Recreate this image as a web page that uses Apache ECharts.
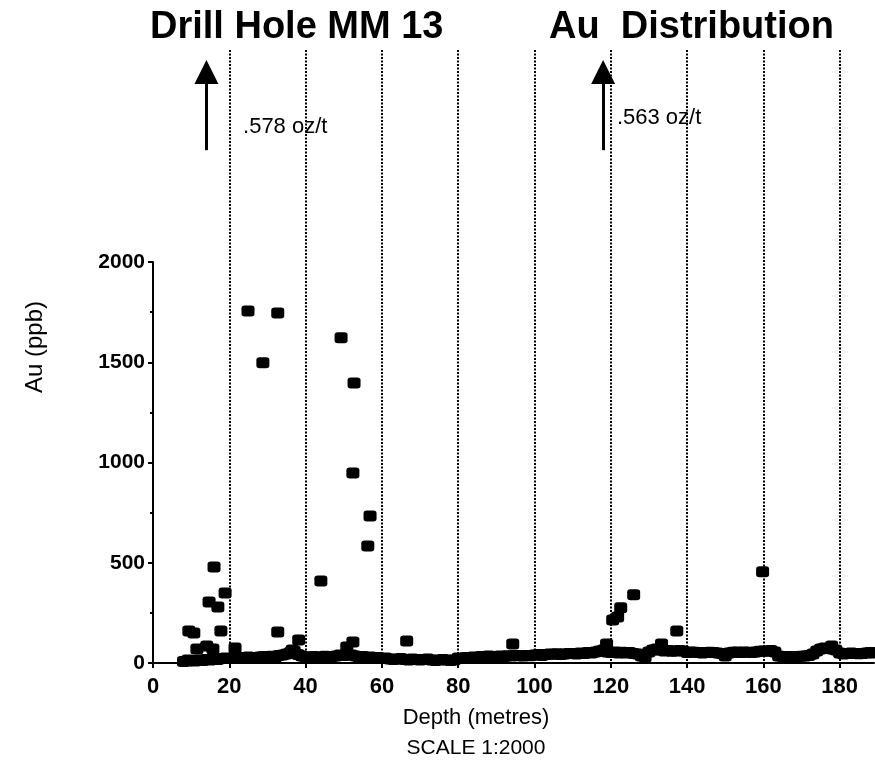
<!DOCTYPE html>
<html>
<head>
<meta charset="utf-8">
<script src="https://cdn.jsdelivr.net/npm/echarts@6/dist/echarts.min.js"></script>
<style>
  html, body { margin: 0; padding: 0; background: #fff; }
  #chart { width: 875px; height: 779px; }
</style>
</head>
<body>
<div id="chart"></div>
<script>
// Drill hole MM 13 — gold assays (ppb) against depth down the hole (m)

const depthTicks = [0, 20, 40, 60, 80, 100, 120, 140, 160, 180];
const auTicks = [0, 500, 1000, 1500, 2000];

// Isolated samples standing above the background
const anomalyDepth = [24.9, 32.7, 28.8, 49.3, 52.7, 52.4, 56.9, 56.3, 44.0, 16.0,
                      18.9, 14.7, 17.0, 9.4, 10.7, 17.8, 32.7, 38.2, 50.8, 52.4,
                      11.5, 14.1, 15.7, 21.5, 36.5, 9.2, 66.5, 94.3, 118.9, 120.5,
                      121.8, 122.6, 126.0, 137.3, 133.3, 159.8, 177.9];
const anomalyAu = [1756, 1746, 1497, 1622, 1397, 948, 733, 584, 409, 479,
                   349, 304, 279, 160, 150, 160, 155, 115, 80, 105,
                   70, 85, 70, 75, 65, 15, 110, 95, 95, 215,
                   230, 275, 340, 160, 95, 455, 85];

// Background samples, one per metre
const backgroundDepth = [
  8, 9, 10, 11, 12, 13, 14, 15, 16, 17, 18, 19,
  20, 21, 22, 23, 24, 25, 26, 27, 28, 29,
  30, 31, 32, 33, 34, 35, 36, 37, 38, 39,
  40, 41, 42, 43, 44, 45, 46, 47, 48, 49,
  50, 51, 52, 53, 54, 55, 56, 57, 58, 59,
  60, 61, 62, 63, 64, 65, 66, 67, 68, 69,
  70, 71, 72, 73, 74, 75, 76, 77, 78, 79,
  80, 81, 82, 83, 84, 85, 86, 87, 88, 89,
  90, 91, 92, 93, 94, 95, 96, 97, 98, 99,
  100, 101, 102, 103, 104, 105, 106, 107, 108, 109,
  110, 111, 112, 113, 114, 115, 116, 117, 118, 119,
  120, 121, 122, 123, 124, 125, 126, 127, 128, 129,
  130, 131, 132, 133, 134, 135, 136, 137, 138, 139,
  140, 141, 142, 143, 144, 145, 146, 147, 148, 149,
  150, 151, 152, 153, 154, 155, 156, 157, 158, 159,
  160, 161, 162, 163, 164, 165, 166, 167, 168, 169,
  170, 171, 172, 173, 174, 175, 176, 177, 178, 179,
  180, 181, 182, 183, 184, 185, 186, 187, 188, 189
];
const backgroundAu = [
  8, 10, 12, 10, 15, 12, 18, 15, 20, 18, 22, 25,
  22, 25, 24, 28, 25, 30, 28, 26, 30, 32,
  30, 34, 28, 38, 40, 45, 52, 60, 42, 35,
  30, 28, 32, 30, 28, 34, 30, 32, 35, 40,
  38, 42, 40, 35, 30, 32, 28, 30, 25, 28,
  22, 25, 20, 18, 20, 22, 18, 15, 20, 18,
  15, 18, 20, 15, 12, 15, 18, 15, 12, 15,
  25, 22, 28, 25, 30, 28, 32, 30, 35, 32,
  32, 35, 33, 36, 35, 38, 36, 35, 38, 36,
  40, 42, 38, 42, 45, 44, 46, 42, 45, 48,
  48, 45, 50, 48, 52, 50, 55, 60, 65, 55,
  52, 55, 50, 54, 50, 52, 48, 45, 35, 30,
  55, 65, 70, 65, 60, 62, 58, 60, 62, 60,
  52, 55, 54, 52, 50, 52, 54, 52, 50, 48,
  35, 50, 54, 55, 52, 55, 54, 52, 55, 58,
  60, 58, 62, 55, 35, 32, 30, 32, 30, 32,
  34, 35, 38, 45, 60, 70, 75, 72, 70, 65,
  50, 45, 48, 50, 48, 46, 48, 50, 52, 50
];

// Assays too high for the scale, marked with arrows
const offScaleDepth = [14, 118];
const offScaleLabel = ['.578 oz/t', '.563 oz/t'];
const offScaleLabelDepth = [23.6, 121.6];
const offScaleLabelLevel = [2675, 2720];

const SANS = '"Liberation Sans", Arial, sans-serif';

const pairs = (xs, ys) => xs.map((x, i) => [x, ys[i]]);

// Upper panel shares the depth scale and extends the ppb scale above 2000
const UPPER_MAX = 3060;
const ARROW_BASE = 2560;
const ARROW_TIP = 2950;

const markerStyle = { color: '#000', opacity: 1 };

const chart = echarts.init(document.getElementById('chart'), null, { renderer: 'canvas' });

chart.setOption({
  backgroundColor: '#fff',
  animation: false,
  grid: [
    { left: 153, right: 1, top: 50, bottom: 116, outerBoundsMode: 'none', containLabel: false },
    { left: 153, right: 1, top: 262, bottom: 116, outerBoundsMode: 'none', containLabel: false }
  ],
  xAxis: [
    {
      gridIndex: 0, type: 'value', min: 0, max: 189, interval: 20,
      axisLine: { show: false }, axisTick: { show: false }, axisLabel: { show: false },
      splitLine: {
        show: true, showMinLine: false, showMaxLine: false,
        lineStyle: { color: '#000', width: 2, type: [2, 1.5] }
      }
    },
    {
      gridIndex: 1, type: 'value', min: 0, max: 189, interval: 20,
      axisLine: { show: true, onZero: false, lineStyle: { color: '#000', width: 2 } },
      axisTick: { show: true, customValues: depthTicks, length: 5, lineStyle: { color: '#000', width: 2 } },
      axisLabel: {
        show: true, customValues: depthTicks, margin: 13, color: '#000',
        fontFamily: SANS, fontWeight: 'bold', fontSize: 22
      },
      splitLine: { show: false }
    }
  ],
  yAxis: [
    {
      gridIndex: 0, type: 'value', min: 0, max: UPPER_MAX,
      axisLine: { show: false }, axisTick: { show: false }, axisLabel: { show: false },
      splitLine: { show: false }
    },
    {
      gridIndex: 1, type: 'value', min: 0, max: 2000, interval: 500,
      axisLine: { show: true, lineStyle: { color: '#000', width: 2 } },
      axisTick: { show: true, length: 5, lineStyle: { color: '#000', width: 2 } },
      minorTick: { show: true, splitNumber: 2, length: 3, lineStyle: { color: '#000', width: 2 } },
      axisLabel: {
        show: true, margin: 8, color: '#000',
        fontFamily: SANS, fontWeight: 'bold', fontSize: 21,
        formatter: (v) => String(v)
      },
      splitLine: { show: false }
    }
  ],
  series: [
    {
      name: 'background', type: 'scatter', xAxisIndex: 1, yAxisIndex: 1,
      symbol: 'roundRect', symbolSize: [13, 11], clip: false,
      itemStyle: markerStyle,
      data: pairs(backgroundDepth, backgroundAu)
    },
    {
      name: 'anomalies', type: 'scatter', xAxisIndex: 1, yAxisIndex: 1,
      symbol: 'roundRect', symbolSize: [13, 11], clip: false,
      itemStyle: markerStyle,
      data: pairs(anomalyDepth, anomalyAu)
    },
    {
      name: 'off-scale', type: 'scatter', xAxisIndex: 0, yAxisIndex: 0,
      symbolSize: 0, clip: false,
      data: offScaleLabel.map((t, i) => [offScaleLabelDepth[i], offScaleLabelLevel[i], t]),
      label: {
        show: true, position: 'right', distance: 0, color: '#000', opacity: 1,
        fontFamily: SANS, fontSize: 22,
        formatter: (p) => p.value[2]
      },
      markLine: {
        silent: true,
        symbol: ['none', 'triangle'],
        symbolSize: 24,
        itemStyle: { color: '#000', opacity: 1 },
        lineStyle: { color: '#000', width: 3, type: 'solid', opacity: 1 },
        label: { show: false },
        data: offScaleDepth.map((d) => [
          { coord: [d, ARROW_BASE] },
          { coord: [d, ARROW_TIP] }
        ])
      }
    }
  ],
  graphic: [
    {
      type: 'text', x: 150, y: 28,
      style: { text: 'Drill Hole MM 13', font: 'bold 38px ' + SANS, fill: '#000',
               textAlign: 'left', align: 'left', textVerticalAlign: 'middle', verticalAlign: 'middle' }
    },
    {
      type: 'text', x: 549, y: 28,
      style: { text: 'Au  Distribution', font: 'bold 38px ' + SANS, fill: '#000',
               textAlign: 'left', align: 'left', textVerticalAlign: 'middle', verticalAlign: 'middle' }
    },
    {
      type: 'text', x: 35, y: 347, rotation: Math.PI / 2,
      style: { text: 'Au (ppb)', font: '24px ' + SANS, fill: '#000',
               textAlign: 'center', align: 'center', textVerticalAlign: 'middle', verticalAlign: 'middle' }
    },
    {
      type: 'text', x: 476, y: 718,
      style: { text: 'Depth (metres)', font: '22px ' + SANS, fill: '#000',
               textAlign: 'center', align: 'center', textVerticalAlign: 'middle', verticalAlign: 'middle' }
    },
    {
      type: 'text', x: 476, y: 748,
      style: { text: 'SCALE 1:2000', font: '21px ' + SANS, fill: '#000',
               textAlign: 'center', align: 'center', textVerticalAlign: 'middle', verticalAlign: 'middle' }
    }
  ]
});
</script>
</body>
</html>
